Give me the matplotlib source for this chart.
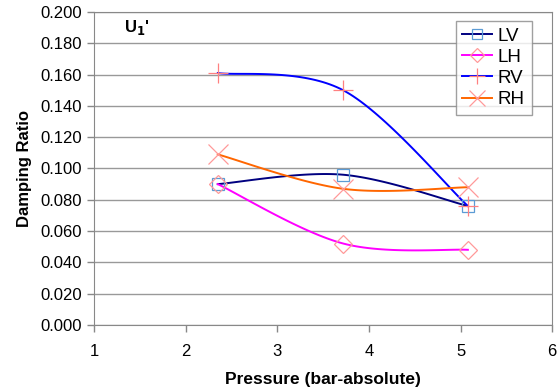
import numpy as np
import matplotlib
matplotlib.use("Agg")
import matplotlib.pyplot as plt

plt.rcParams['font.family'] = ['Liberation Sans', 'DejaVu Sans']

# pressure (bar-absolute) for the three test points
pressure = [2.35, 3.72, 5.08]

lv = [0.090, 0.096, 0.076]
lh = [0.090, 0.052, 0.048]
rv = [0.161, 0.150, 0.076]
rh = [0.109, 0.087, 0.088]

names = ["LV", "LH", "RV", "RH"]
line_colors = ["#000080", "#ff00ff", "#0000ff", "#ff6600"]
marker_colors = ["#5b9bd5", "#ff9999", "#ff8080", "#ff9999"]
markers = ["s", "D", "+", "x"]
marker_sizes = [9, 9, 14, 14]


def smooth(x, y, n=40):
    # cubic bezier through the points, catmull-rom style control points
    x = np.asarray(x, float)
    y = np.asarray(y, float)
    px = np.concatenate([[x[0]], x, [x[-1]]])
    py = np.concatenate([[y[0]], y, [y[-1]]])
    xs, ys = [], []
    t = np.linspace(0, 1, n)
    for i in range(len(x) - 1):
        p0 = np.array([x[i], y[i]])
        p3 = np.array([x[i + 1], y[i + 1]])
        p1 = p0 + (np.array([px[i + 2], py[i + 2]]) - np.array([px[i], py[i]])) / 6
        p2 = p3 - (np.array([px[i + 3], py[i + 3]]) - np.array([px[i + 1], py[i + 1]])) / 6
        b = ((1 - t) ** 3)[:, None] * p0 + (3 * (1 - t) ** 2 * t)[:, None] * p1 \
            + (3 * (1 - t) * t ** 2)[:, None] * p2 + (t ** 3)[:, None] * p3
        xs.extend(b[:, 0])
        ys.extend(b[:, 1])
    return xs, ys


fig = plt.figure(figsize=(5.6, 3.9), dpi=100)
ax = fig.add_axes([0.168, 0.167, 0.818, 0.802])

for vals, name, lc, mc, m, ms in zip([lv, lh, rv, rh], names, line_colors,
                                      marker_colors, markers, marker_sizes):
    sx, sy = smooth(pressure, vals)
    ax.plot(sx, sy, color=lc, lw=1.4, zorder=3)
    ax.plot(pressure, vals, ls="none", marker=m, ms=ms, mfc="none",
            mec=mc, mew=0.9, zorder=4)
    # legend proxy
    ax.plot([], [], color=lc, lw=1.4, marker=m, ms=ms * 0.8, mfc="none",
            mec=mc, mew=0.9, label=name)

ax.set_xlim(1, 6)
ax.set_ylim(0, 0.2)
ax.set_xticks(range(1, 7))
ax.set_yticks(np.arange(0, 0.2001, 0.02))
ax.set_yticklabels([f"{v:.3f}" for v in np.arange(0, 0.2001, 0.02)])
ax.yaxis.grid(True, color="#999999", lw=1)
ax.set_axisbelow(True)
for s in ax.spines.values():
    s.set_color("#888888")
ax.tick_params(colors="#888888", labelcolor="black", labelsize=12,
               length=5, width=1)
ax.tick_params(axis="x", pad=9)

ax.set_xlabel("Pressure (bar-absolute)", fontsize=12.5, fontweight="bold", labelpad=9)
ax.set_ylabel("Damping Ratio", fontsize=12, fontweight="bold", labelpad=6)

ax.text(0.065, 0.98, r"U$_\mathbf{1}$'", transform=ax.transAxes, fontsize=12,
        fontweight="bold", va="top", ha="left")

leg = ax.legend(loc="upper right", bbox_to_anchor=(0.955, 0.972), fontsize=13.5,
                frameon=True, fancybox=False, handlelength=1.6,
                handletextpad=0.3, borderpad=0.35, labelspacing=0.22,
                borderaxespad=0)
leg.get_frame().set_edgecolor("#888888")
leg.get_frame().set_linewidth(1)

fig.savefig("out.png", dpi=100)
